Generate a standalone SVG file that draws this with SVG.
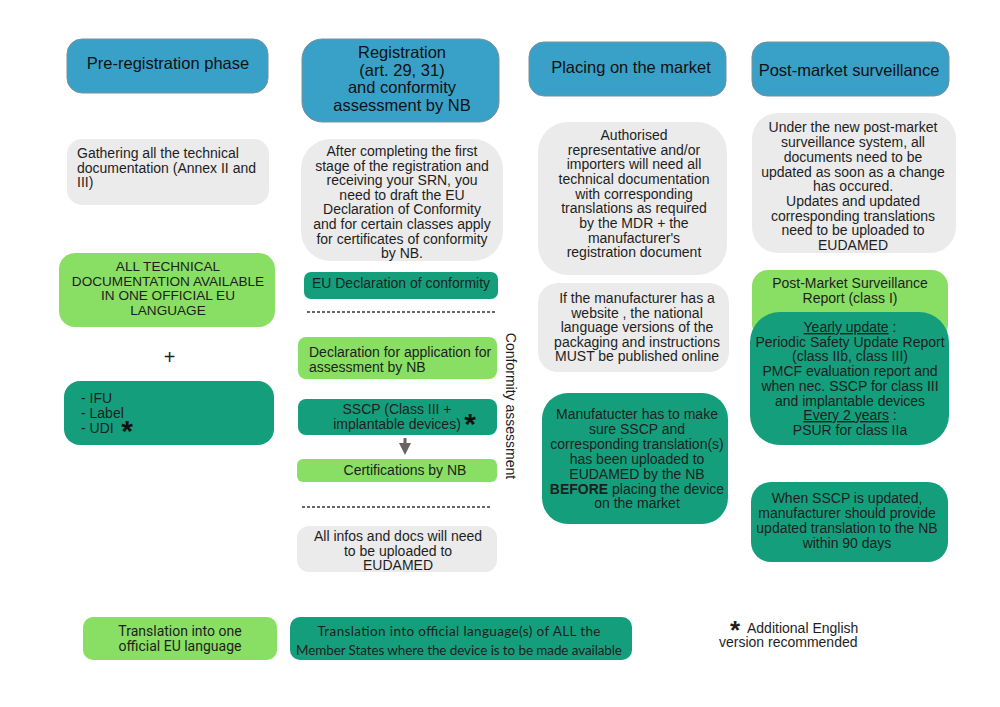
<svg xmlns="http://www.w3.org/2000/svg" width="1000" height="707" viewBox="0 0 1000 707">
<style>
text{font-family:"Liberation Sans",Arial,sans-serif;font-size:14px;fill:#1e1e1e}
.hd{font-size:16.5px;fill:#111}
.c{text-anchor:middle}
.blue{fill:#39a0c8;stroke:#7c8f98;stroke-width:1}
.gray{fill:#ebebeb}
.lg{fill:#88df63}
.tl{fill:#159e7c}
.dash{stroke:#333;stroke-width:1.4;stroke-dasharray:3 2}
.star{font-size:30px;font-weight:bold;fill:#111;text-anchor:middle}
.u{text-decoration:underline}
</style>
<defs>
<marker id="ah" markerWidth="4" markerHeight="4" refX="2" refY="2" orient="auto" markerUnits="strokeWidth">
<path d="M0,0 L4,2 L0,4 Z" fill="#6b6363"/>
</marker>
</defs>
<rect width="1000" height="707" fill="#ffffff"/>

<g id="h1"><rect class="blue" x="67" y="39" width="201" height="54" rx="15"/><text class="hd c" x="168" y="69">Pre-registration phase</text></g>
<g id="h2"><rect class="blue" x="302" y="39" width="197" height="83" rx="20"/>
<text class="hd c" x="402" y="58">Registration</text>
<text class="hd c" x="402" y="75.5">(art. 29, 31)</text>
<text class="hd c" x="402" y="93">and conformity</text>
<text class="hd c" x="402" y="110.5">assessment by NB</text></g>
<g id="h3"><rect class="blue" x="529" y="42" width="197" height="54" rx="15"/><text class="hd c" x="631" y="73">Placing on the market</text></g>
<g id="h4"><rect class="blue" x="752" y="42" width="197" height="54" rx="15"/><text class="hd c" x="849" y="76">Post-market surveillance</text></g>

<g id="c1-gather"><rect class="gray" x="67" y="139" width="202" height="66" rx="15"/>
<text x="77" y="158">Gathering all the technical</text>
<text x="77" y="172.5">documentation (Annex II and</text>
<text x="77" y="187">III)</text></g>
<g id="c1-alltech"><rect class="lg" x="59" y="253" width="216" height="74" rx="16"/>
<text class="c" x="168" y="271" style="font-size:13.6px">ALL TECHNICAL</text>
<text class="c" x="168" y="285.5" style="font-size:13.6px">DOCUMENTATION AVAILABLE</text>
<text class="c" x="168" y="300" style="font-size:13.6px">IN ONE OFFICIAL EU</text>
<text class="c" x="168" y="314.5" style="font-size:13.6px">LANGUAGE</text></g>
<g id="c1-plus"><text class="c" x="169.5" y="364" style="font-size:20px">+</text></g>
<g id="c1-ifu"><rect class="tl" x="64" y="381" width="210" height="64" rx="16"/>
<text x="81" y="403">- IFU</text>
<text x="81" y="418">- Label</text>
<text x="81" y="433">- UDI</text>
<text class="star" x="127" y="441">*</text></g>

<g id="c2-after"><rect class="gray" x="301" y="139" width="202" height="122" rx="30"/>
<text class="c" x="402" y="156">After completing the first</text>
<text class="c" x="402" y="170.5">stage of the registration and</text>
<text class="c" x="402" y="185">receiving  your SRN, you</text>
<text class="c" x="402" y="199.5">need to draft the EU</text>
<text class="c" x="402" y="214">Declaration of Conformity</text>
<text class="c" x="402" y="229">and for certain classes apply</text>
<text class="c" x="402" y="243.5">for certificates of conformity</text>
<text class="c" x="402" y="258">by NB.</text></g>
<g id="c2-eudecl"><rect class="tl" x="304" y="272" width="194" height="27" rx="7"/>
<text class="c" x="401" y="288">EU Declaration of conformity</text></g>
<g id="c2-declapp"><rect class="lg" x="298" y="337" width="199" height="42" rx="8"/>
<text x="309" y="357">Declaration for application for</text>
<text x="309" y="371.5">assessment by NB</text></g>
<g id="c2-sscp"><rect class="tl" x="298" y="399" width="199" height="36" rx="8"/>
<text class="c" x="397" y="414">SSCP (Class III +</text>
<text class="c" x="397" y="428.5">implantable devices)</text>
<text class="star" x="470" y="434">*</text></g>
<g id="c2-cert"><rect class="lg" x="297" y="459" width="200" height="23" rx="6"/>
<text class="c" x="405" y="475">Certifications by NB</text></g>
<g id="c2-eudamed"><rect class="gray" x="297" y="526" width="200" height="46" rx="12"/>
<text class="c" x="398" y="541">All infos and docs will need</text>
<text class="c" x="398" y="555.5">to be uploaded to</text>
<text class="c" x="398" y="570">EUDAMED</text></g>
<g id="c2-conf-label"><text class="c" transform="translate(506,406) rotate(90)">Conformity assessment</text></g>
<g id="separators">
<line class="dash" x1="307" y1="312" x2="497" y2="312"/>
<line class="dash" x1="302" y1="507" x2="492" y2="507"/>
</g>

<g id="c3-auth"><rect class="gray" x="538" y="122" width="189" height="153" rx="30"/>
<text class="c" x="634" y="140">Authorised</text>
<text class="c" x="634" y="154.5">representative and/or</text>
<text class="c" x="634" y="169">importers will need  all</text>
<text class="c" x="634" y="184">technical documentation</text>
<text class="c" x="634" y="198.5">with corresponding</text>
<text class="c" x="634" y="213">translations as required</text>
<text class="c" x="634" y="228">by the MDR + the</text>
<text class="c" x="634" y="242.5">manufacturer's</text>
<text class="c" x="634" y="257">registration document</text></g>
<g id="c3-web"><rect class="gray" x="538" y="283" width="191" height="89" rx="20"/>
<text class="c" x="637" y="303">If the manufacturer has a</text>
<text class="c" x="637" y="317.5">website , the national</text>
<text class="c" x="637" y="332">language versions of the</text>
<text class="c" x="637" y="346.5">packaging and instructions</text>
<text class="c" x="637" y="361">MUST be  published online</text></g>
<g id="c3-manuf"><rect class="tl" x="542" y="393" width="186" height="131" rx="26"/>
<text class="c" x="637" y="419">Manufatucter has to make</text>
<text class="c" x="637" y="434">sure  SSCP and</text>
<text class="c" x="637" y="449">corresponding translation(s)</text>
<text class="c" x="637" y="464">has been uploaded to</text>
<text class="c" x="637" y="479">EUDAMED by the NB</text>
<text class="c" x="637" y="494"><tspan font-weight="bold">BEFORE</tspan> placing the device</text>
<text class="c" x="637" y="508">on the market</text></g>

<g id="c4-under"><rect class="gray" x="752" y="113" width="204" height="140" rx="26"/>
<text class="c" x="853" y="132">Under the new post-market</text>
<text class="c" x="853" y="147">surveillance system, all</text>
<text class="c" x="853" y="162">documents need to be</text>
<text class="c" x="853" y="177">updated as soon as a change</text>
<text class="c" x="853" y="191">has occured.</text>
<text class="c" x="853" y="206">Updates and updated</text>
<text class="c" x="853" y="221">corresponding translations</text>
<text class="c" x="853" y="235">need to be uploaded to</text>
<text class="c" x="853" y="250">EUDAMED</text></g>
<g id="c4-pmsr"><rect class="lg" x="752" y="270" width="196" height="70" rx="16"/>
<text class="c" x="850" y="288">Post-Market Surveillance</text>
<text class="c" x="850" y="302.5">Report  (class I)</text></g>
<g id="c4-yearly"><rect class="tl" x="750" y="312" width="199" height="133" rx="30"/>
<text class="c" x="850" y="332"><tspan class="u">Yearly update</tspan> :</text>
<text class="c" x="850" y="346.5">Periodic Safety Update Report</text>
<text class="c" x="850" y="361">(class IIb, class III)</text>
<text class="c" x="850" y="376">PMCF evaluation report and</text>
<text class="c" x="850" y="391">when nec. SSCP for class III</text>
<text class="c" x="850" y="405.5">and implantable devices</text>
<text class="c" x="850" y="420"><tspan class="u">Every 2 years</tspan> :</text>
<text class="c" x="850" y="435">PSUR for class IIa</text></g>
<g id="c4-sscpupd"><rect class="tl" x="751" y="482" width="197" height="80" rx="20"/>
<text class="c" x="847" y="503">When SSCP is updated,</text>
<text class="c" x="847" y="518">manufacturer should provide</text>
<text class="c" x="847" y="533">updated translation to the NB</text>
<text class="c" x="847" y="548">within 90 days</text></g>

<g id="legend-one"><rect class="lg" x="83" y="617" width="194" height="43" rx="10"/>
<text class="c" x="180" y="636" style="font-family:Roboto,'Liberation Sans',sans-serif">Translation into one</text>
<text class="c" x="180" y="651" style="font-family:Roboto,'Liberation Sans',sans-serif">official EU language</text></g>
<g id="legend-all"><rect class="tl" x="290" y="617" width="342" height="43" rx="10"/>
<text class="c" x="459" y="636" textLength="283" style="font-family:Lato,'Open Sans',sans-serif;font-size:13.5px">Translation into official language(s) of ALL the</text>
<text class="c" x="459" y="655" textLength="326" style="font-family:Lato,'Open Sans',sans-serif;font-size:13.5px">Member States where the device is to be made available</text></g>
<g id="note"><text><tspan x="730" y="639" style="font-size:26px;font-weight:bold">*</tspan><tspan x="747" y="633">Additional English</tspan><tspan x="719" y="647">version recommended</tspan></text></g>

<g id="connectors">
<line x1="405" y1="438" x2="405" y2="449" stroke="#6b6363" stroke-width="3" marker-end="url(#ah)"/>
</g>
</svg>
